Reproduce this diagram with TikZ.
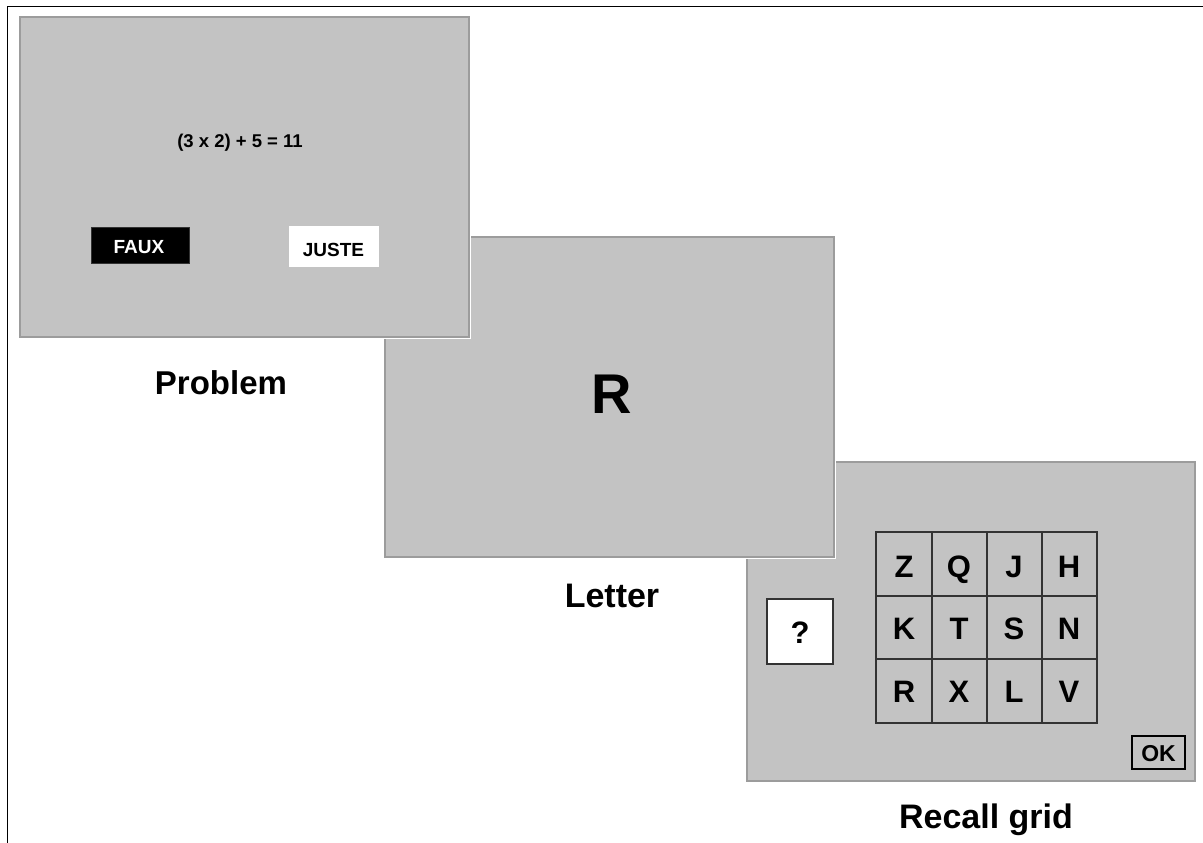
\documentclass[tikz,border=0pt]{standalone}
\usepackage{fontspec}
\setmainfont{Liberation Sans}
\definecolor{panelfill}{HTML}{C3C3C3}
\definecolor{paneledge}{HTML}{9C9C9C}
\definecolor{gridline}{HTML}{333333}
\tikzset{
  panel/.style={fill=panelfill, draw=paneledge, line width=1.2pt},
  txt/.style={anchor=base, inner sep=0pt, font=\bfseries},
  cellbox/.style={draw=gridline, line width=2.3pt},
}
\newcommand{\fs}[1]{\fontsize{#1}{#1}\selectfont}
\begin{document}
\begin{tikzpicture}[x=1pt,y=-1pt]
\useasboundingbox (0,0) rectangle (1203,843);
\fill[white] (0,0) rectangle (1203,843);
% outer frame (left and top edges visible)
\draw[black, line width=1pt] (7.5,843) -- (7.5,6.5) -- (1203,6.5);

% ---------- Panel 3: recall grid ----------
\draw[draw=white, line width=2.5pt] (748,463) rectangle (1196,782);
\draw[panel] (747,462) rectangle (1195,781);
\draw[draw=gridline, line width=1.3pt, fill=white] (767,599) rectangle (833,664);
\node[txt, font=\bfseries\fs{31}] (qm) at (800,643) {?};
\foreach \cx/\cy/\l [count=\i] in {
  904/577/Z, 959/577/Q, 1014/577/J, 1069/577/H,
  904/639/K, 959/639/T, 1014/639/S, 1069/639/N,
  904/702/R, 959/702/X, 1014/702/L, 1069/702/V} {
  \node[txt, font=\bfseries\fs{31}] (g\i) at (\cx,\cy) {\l};
}
\draw[cellbox] (876,532) rectangle (1097,723);
\draw[cellbox] (932,532) -- (932,723) (987,532) -- (987,723) (1042,532) -- (1042,723);
\draw[cellbox] (876,596) -- (1097,596) (876,659) -- (1097,659);
\draw[black, line width=1.2pt] (1132,736) rectangle (1185,769);
\node[txt, font=\bfseries\fs{23}] (ok) at (1158.5,761.5) {OK};
\node[txt, font=\bfseries\fs{34}] (lab3) at (986,828) {Recall grid};

% ---------- Panel 2: letter ----------
\draw[draw=white, line width=2.5pt] (386,238) rectangle (835,558);
\draw[panel] (385,237) rectangle (834,557);
\node[txt, font=\bfseries\fs{56}] (bigR) at (611.5,413) {R};
\node[txt, font=\bfseries\fs{34}] (lab2) at (612,607) {Letter};

% ---------- Panel 1: problem ----------
\draw[draw=white, line width=2.5pt] (21,18) rectangle (470,338);
\draw[panel] (20,17) rectangle (469,337);
\node[txt, font=\bfseries\fs{18.5}] (eq) at (240,147.5) {(3 x 2) + 5 = 11};
\node[fill=black, draw=gridline, line width=1pt, minimum width=98pt, minimum height=36pt, inner sep=0pt] (faux) at (140,245) {};
\node[txt, font=\bfseries\fs{19}, text=white] (fauxt) at (139,253) {FAUX};
\node[fill=white, minimum width=90pt, minimum height=41pt, inner sep=0pt] (juste) at (334,246.5) {};
\node[txt, font=\bfseries\fs{19}] (justet) at (333.5,256) {JUSTE};
\node[txt, font=\bfseries\fs{33}] (lab1) at (221,394) {Problem};
\end{tikzpicture}
\end{document}
